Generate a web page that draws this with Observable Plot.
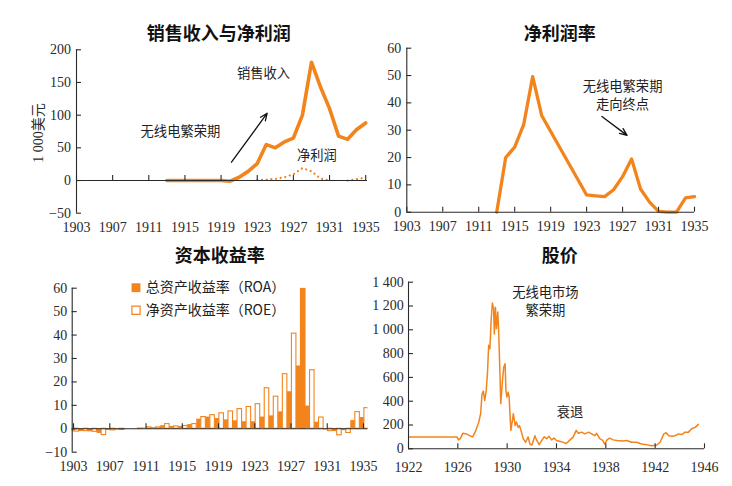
<!DOCTYPE html>
<html><head><meta charset="utf-8">
<script src="https://cdn.jsdelivr.net/npm/d3@7"></script>
<script src="https://cdn.jsdelivr.net/npm/@observablehq/plot@0.6"></script>
<style>
body{margin:0;background:#fff;}
#wrap{position:relative;width:732px;height:486px;overflow:hidden;background:#fff}
#wrap svg{position:absolute;left:0;top:0}
</style></head><body><div id="wrap"></div>
<script>
// ---------- data ----------
// Panel 1: 销售收入与净利润 (1 000美元)
const salesYears = [1913,1914,1915,1916,1917,1918,1919,1920,1921,1922,1923,1924,1925,1926,1927,1928,1929,1930,1931,1932,1933,1934,1935];
const salesValues = [0,0,0,0,0,0,0,-1,5,14,26,55,50,59,65,100,181,143,110,68,63,78,88];
const incomeYears = [1923,1924,1925,1926,1927,1928,1929,1930,1931,1932,1933,1934,1935];
const incomeValues = [0.5,1.5,2.5,5,9.5,19,14,3,0,null,0,2,4.5];

// Panel 2: 净利润率
const marginYears = [1913,1914,1915,1916,1917,1918,1923,1924,1925,1926,1927,1928,1929,1930,1931,1932,1933,1934,1935];
const marginValues = [0,20,23.8,32,49.6,35.4,6.3,6.0,5.7,8.2,13,19.5,8.5,3.7,0.3,0,0,5.2,5.7];

// Panel 3: 资本收益率
const retYears = d3.range(1903, 1936);
const roa = [-1.2,-1.2,-1.3,-2.0,-0.7,-0.5,0,0.1,0.3,0.5,1.3,1.0,1.0,1.8,4.1,5.0,4.4,3.8,3.4,3.0,3.0,5.0,5.5,7.2,15.8,26.8,9.7,2.8,-0.5,-1.2,-0.8,3.5,4.8];
const roe = [-1.2,-1.0,-1.3,-2.7,-0.7,-0.5,0,0.1,0.6,0.6,2.0,1.0,1.2,2.0,5.0,5.8,6.6,7.4,8.4,9.3,10.5,17.3,13.7,23.3,40.6,59.8,25.0,4.8,-1.0,-2.8,-1.8,7.1,8.8];

// Panel 4: 股价
const priceT = [1922.0,1925.93,1926.05,1926.2,1926.4,1926.7,1926.96,1927.2,1927.4,1927.6,1927.7,1927.85,1927.96,1928.07,1928.18,1928.3,1928.4,1928.5,1928.6,1928.7,1928.8,1928.9,1928.96,1929.05,1929.13,1929.24,1929.3,1929.4,1929.48,1929.56,1929.64,1929.72,1929.83,1929.9,1929.98,1930.08,1930.16,1930.24,1930.3,1930.43,1930.5,1930.65,1930.75,1930.9,1931.0,1931.16,1931.3,1931.5,1931.7,1931.84,1932.0,1932.25,1932.4,1932.6,1932.8,1933.0,1933.2,1933.4,1933.6,1933.8,1934.0,1934.4,1934.8,1935.1,1935.36,1935.6,1935.77,1936.04,1936.3,1936.6,1936.85,1937.1,1937.26,1937.5,1937.75,1937.9,1938.1,1938.3,1938.6,1938.9,1939.3,1939.7,1940.1,1940.5,1940.9,1941.3,1941.7,1942.1,1942.4,1942.7,1942.9,1943.1,1943.35,1943.6,1943.9,1944.2,1944.4,1944.7,1944.98,1945.25,1945.5];
const priceV = [100,100,75,85,130,125,110,100,140,195,225,295,460,485,405,490,630,870,840,1080,1225,1180,965,1190,1010,1150,1020,685,380,490,600,685,715,490,435,475,435,265,155,240,295,195,225,180,195,140,85,55,100,40,30,110,70,35,70,100,85,105,75,90,70,60,45,75,100,155,130,140,125,140,125,110,130,85,70,40,75,90,75,70,65,70,55,55,40,35,25,30,55,125,135,110,105,110,125,120,140,140,170,180,205];

// tick labels
const ticksX1 = [1903,1907,1911,1915,1919,1923,1927,1931,1935];
const ticksY1 = [-50,0,50,100,150,200];
const ticksY2 = [0,10,20,30,40,50,60];
const ticksY3 = [-10,0,10,20,30,40,50,60];
const ticksX4 = [1922,1926,1930,1934,1938,1942,1946];
const ticksY4 = [0,200,400,600,800,1000,1200,1400];

// annotations
const notes1 = [
  {x: 1923.7, y: 163, text: "销售收入"},
  {x: 1929.6, y: 38.5, text: "净利润"},
  {x: 1914.5, y: 74, text: "无线电繁荣期"}
];
const arrow1 = [{x1: 1920.15, y1: 28, x2: 1924.1, y2: 103}];
const notes2 = [
  {x: 1927.0, y: 45.8, text: "无线电繁荣期"},
  {x: 1927.0, y: 39.2, text: "走向终点"}
];
const arrow2 = [{x1: 1924.7, y1: 35, x2: 1927.5, y2: 28.1}];
const notes4 = [
  {x: 1933.1, y: 1314, text: "无线电市场"},
  {x: 1933.1, y: 1162, text: "繁荣期"},
  {x: 1935.1, y: 307, text: "衰退"}
];
const legend3 = ["总资产收益率（ROA）", "净资产收益率（ROE）"];

// ---------- drawing ----------
const ORANGE = "#f3841c";
const INK = "#2a2a2a";
const W = 732, H = 486;
const SERIF = "'Liberation Serif', 'DejaVu Serif', serif";
const SANS = "'Noto Sans CJK SC', 'Noto Sans', sans-serif";
const minus = d => d < 0 ? "\u2212" + Math.abs(d) : String(d);

function makePanel(o) {
  const ml = o.px[0], mr = W - o.px[1], mt = o.py[0], mb = H - o.py[1];
  const x0 = o.xDomain[0];
  const axis = [
    Plot.ruleY([0], {stroke: INK, strokeWidth: 1.1}),
    Plot.ruleX([x0], {stroke: INK, strokeWidth: 1.1}),
    // inward tick marks (5px), drawn as zero-length rules extended by an inset
    Plot.ruleY(o.yTicks, {y: d => d, x1: () => x0, x2: () => x0, insetRight: -5, stroke: INK, strokeWidth: 1.1}),
    Plot.ruleX(o.xTicks, {x: d => d, y1: () => 0, y2: () => 0, insetBottom: 5, stroke: INK, strokeWidth: 1.1}),
    Plot.text(o.yTicks, {y: d => d, frameAnchor: "left", textAnchor: "end", lineAnchor: "middle", dx: -o.yPad, text: o.yFmt || minus, fontFamily: SERIF, fontSize: 14, fill: INK}),
    Plot.text(o.xTicks, {x: d => d, frameAnchor: "bottom", textAnchor: "middle", lineAnchor: "middle", dy: o.xPad, text: d => String(d), fontFamily: SERIF, fontSize: 14, fill: INK}),
    Plot.text([o.title], {frameAnchor: "top-left", textAnchor: "middle", lineAnchor: "middle", dx: o.titleXY[0] - ml, dy: o.titleXY[1] - mt, text: d => d, fontFamily: SANS, fontSize: 18, fontWeight: "bold", fill: "#111"})
  ];
  return Plot.plot({
    width: W, height: H,
    marginLeft: ml, marginRight: mr, marginTop: mt, marginBottom: mb,
    x: {domain: o.xDomain, axis: null},
    y: {domain: o.yDomain, axis: null},
    color: {type: "identity"},
    style: {background: "transparent", overflow: "visible"},
    marks: [...o.marks, ...axis, ...(o.extra || [])]
  });
}

const noteStyle = {fontFamily: SANS, fontSize: 13.3, fill: "#222"};

const sales = salesYears.map((year, i) => ({year, value: salesValues[i]}));
const income = incomeYears.map((year, i) => ({year, value: incomeValues[i]}));
const margin = marginYears.map((year, i) => ({year, value: marginValues[i]}));
const returns = retYears.map((year, i) => ({year, roa: roa[i], roe: roe[i]}));
const price = priceT.map((t, i) => ({t, value: priceV[i]}));

const p1 = makePanel({
  px: [76, 367], py: [49.3, 212.7], xDomain: [1903, 1935.2], yDomain: [-50, 200],
  xTicks: ticksX1, yTicks: ticksY1, yPad: 5.5, xPad: 14,
  title: "销售收入与净利润", titleXY: [218.3, 34],
  marks: [
    Plot.line(income, {x: "year", y: "value", stroke: ORANGE, strokeWidth: 2.2, strokeDasharray: "0.1 4.6", strokeLinecap: "round"}),
    Plot.line(sales, {x: "year", y: "value", stroke: ORANGE, strokeWidth: 3.6, strokeLinejoin: "round", strokeLinecap: "round"})
  ],
  extra: [
    Plot.text(notes1, {x: "x", y: "y", text: "text", ...noteStyle}),
    Plot.arrow(arrow1, {x1: "x1", y1: "y1", x2: "x2", y2: "y2", stroke: "#111", strokeWidth: 1.3, headLength: 9, headAngle: 45}),
    Plot.text(["1 000美元"], {frameAnchor: "left", textAnchor: "middle", lineAnchor: "middle", dx: -38, dy: 1.5, rotate: -90, text: d => d, fontFamily: SERIF + ", 'Noto Sans CJK SC'", fontSize: 14, fill: INK})
  ]
});

const p2 = makePanel({
  px: [406.3, 694], py: [47.7, 211.7], xDomain: [1903, 1935], yDomain: [0, 60],
  xTicks: ticksX1, yTicks: ticksY2, yPad: 5.6, xPad: 14.3,
  title: "净利润率", titleXY: [559.2, 34],
  marks: [
    Plot.line(margin, {x: "year", y: "value", stroke: ORANGE, strokeWidth: 3.3, strokeLinejoin: "round"})
  ],
  extra: [
    Plot.text(notes2, {x: "x", y: "y", text: "text", ...noteStyle}),
    Plot.arrow(arrow2, {x1: "x1", y1: "y1", x2: "x2", y2: "y2", stroke: "#111", strokeWidth: 1.3, headLength: 9, headAngle: 45})
  ]
});

const p3 = makePanel({
  px: [71.7, 367.5], py: [287.7, 451.7], xDomain: [1902.85, 1935.5], yDomain: [-10, 60],
  xTicks: ticksX1, yTicks: ticksY3, yPad: 5, xPad: 14.3,
  title: "资本收益率", titleXY: [219.2, 255.7],
  marks: [
    Plot.rect(returns, {x1: d => d.year - 0.4, x2: d => d.year + 0.1, y1: () => 0, y2: "roa", fill: ORANGE, clip: true}),
    Plot.rect(returns, {x1: d => d.year + 0.1, x2: d => d.year + 0.6, y1: () => 0, y2: "roe", fill: d => d.year === 1928 ? ORANGE : "white", stroke: ORANGE, strokeWidth: 1.1, clip: true})
  ],
  extra: [
    Plot.dot([legend3[0]], {frameAnchor: "top-left", dx: 63.8, dy: -0.5, symbol: "square", r: 5, fill: ORANGE}),
    Plot.dot([legend3[1]], {frameAnchor: "top-left", dx: 63.8, dy: 22, symbol: "square", r: 4.6, fill: "white", stroke: ORANGE, strokeWidth: 1.2}),
    Plot.text([legend3[0]], {frameAnchor: "top-left", dx: 73.5, dy: -0.5, textAnchor: "start", lineAnchor: "middle", text: d => d, ...noteStyle, fontSize: 14}),
    Plot.text([legend3[1]], {frameAnchor: "top-left", dx: 73.5, dy: 22, textAnchor: "start", lineAnchor: "middle", text: d => d, ...noteStyle, fontSize: 14})
  ]
});

const fmt4 = d => d >= 1000 ? Math.floor(d / 1000) + " " + String(d % 1000).padStart(3, "0") : String(d);
const p4 = makePanel({
  px: [408, 704], py: [281.7, 448.3], xDomain: [1922, 1946], yDomain: [0, 1400],
  xTicks: ticksX4, yTicks: ticksY4, yPad: 4.7, xPad: 18.4, yFmt: fmt4,
  title: "股价", titleXY: [559.2, 255.7],
  marks: [
    Plot.line(price, {x: "t", y: "value", stroke: ORANGE, strokeWidth: 1.5, strokeLinejoin: "round"})
  ],
  extra: [
    Plot.text(notes4, {x: "x", y: "y", text: "text", ...noteStyle})
  ]
});

const wrap = document.getElementById("wrap");
[p1, p2, p3, p4].forEach(svg => wrap.appendChild(svg));
</script>
</body></html>
